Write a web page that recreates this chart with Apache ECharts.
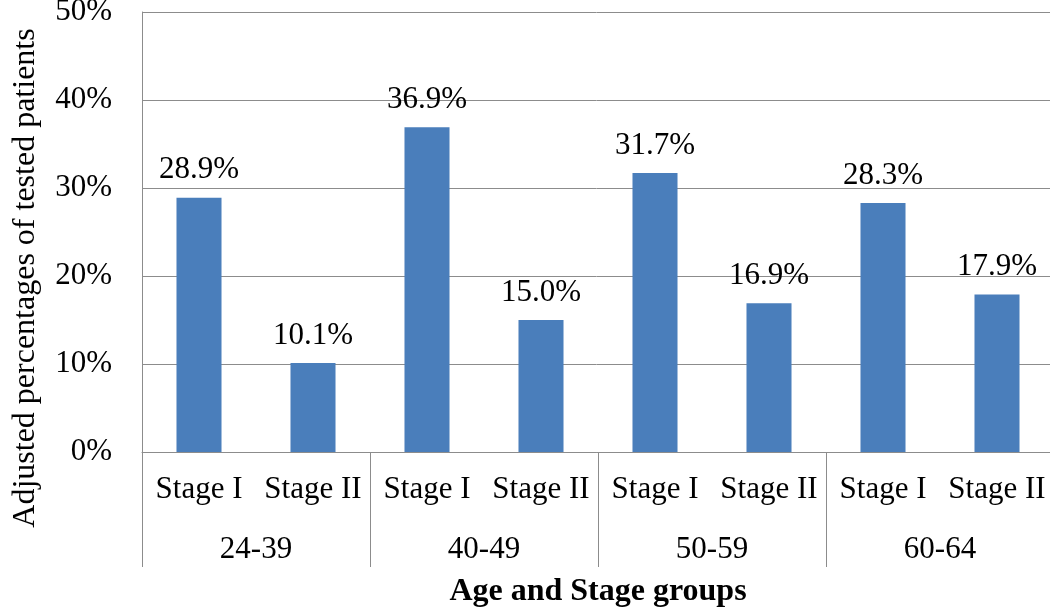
<!DOCTYPE html>
<html>
<head>
<meta charset="utf-8">
<script src="https://cdn.jsdelivr.net/npm/echarts@6/dist/echarts.min.js"></script>
<style>html,body{margin:0;padding:0;background:#fff}#c{width:1050px;height:607px}</style>
</head>
<body>
<div id="c"></div>
<script>
const stages = ['Stage I','Stage II','Stage I','Stage II','Stage I','Stage II','Stage I','Stage II'];
const ageGroups = ['24-39','40-49','50-59','60-64'];
const values = [28.9, 10.1, 36.9, 15.0, 31.7, 16.9, 28.3, 17.9];
const yTicks = { min: 0, max: 50, interval: 10 };
const xTitle = 'Age and Stage groups';
const yTitle = 'Adjusted percentages of tested patients';

const font = 'Liberation Serif, Times New Roman, serif';
const gray = '#8c8c8c';
const chart = echarts.init(document.getElementById('c'));
chart.setOption({
  animation: false,
  grid: { left: 142, right: -4, top: 12, bottom: 155, containLabel: false, outerBoundsMode: 'none' },
  xAxis: [
    {
      type: 'category', data: stages, position: 'bottom',
      axisLine: { show: true, lineStyle: { color: gray, width: 1 } },
      axisTick: { show: false },
      axisLabel: { interval: 0, margin: 22, color: '#000', fontFamily: font, fontSize: 31 }
    },
    {
      type: 'category', data: ageGroups, position: 'bottom', offset: 0,
      axisLine: { show: false },
      axisTick: { show: true, interval: 0, length: 115, lineStyle: { color: gray, width: 1 } },
      axisLabel: { interval: 0, margin: 82, color: '#000', fontFamily: font, fontSize: 31 },
      name: xTitle, nameLocation: 'middle', nameGap: 124,
      nameTextStyle: { color: '#000', fontFamily: font, fontSize: 32, fontWeight: 'bold' }
    }
  ],
  yAxis: {
    type: 'value', min: yTicks.min, max: yTicks.max, interval: yTicks.interval,
    axisLine: { show: true, lineStyle: { color: gray, width: 1 } },
    axisTick: { show: false },
    splitLine: { show: true, lineStyle: { color: gray, width: 1 } },
    axisLabel: { formatter: '{value}%', margin: 30, color: '#000', fontFamily: font, fontSize: 31 },
    name: yTitle, nameLocation: 'middle', nameRotate: 90, nameGap: 100,
    nameTextStyle: { color: '#000', fontFamily: font, fontSize: 32, padding: [0, 92, 0, 0] }
  },
  series: [{
    type: 'bar', data: values, xAxisIndex: 0, yAxisIndex: 0,
    barWidth: '39.5%',
    itemStyle: { color: '#4A7EBB' },
    label: {
      show: true, position: 'top', distance: 12, color: '#000',
      fontFamily: font, fontSize: 31,
      formatter: p => p.value.toFixed(1) + '%'
    }
  }]
});
</script>
</body>
</html>
